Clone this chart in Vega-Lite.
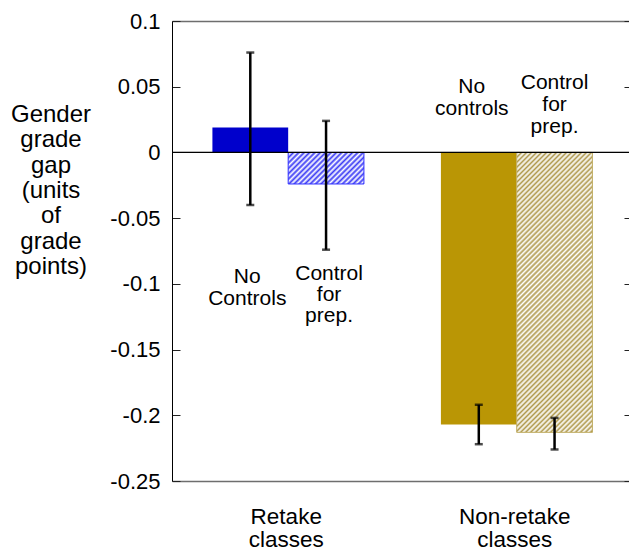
{
  "$schema": "https://vega.github.io/schema/vega-lite/v6.json",
  "width": 457,
  "height": 460,
  "autosize": {"type": "none"},
  "padding": {"left": 172, "top": 21, "right": 0, "bottom": 71},
  "config": {
    "view": {"stroke": null},
    "font": "Liberation Sans",
    "axis": {"labelFont": "Liberation Sans", "titleFont": "Liberation Sans", "grid": false},
    "text": {"font": "Liberation Sans"}
  },
  "data": {
    "values": [
      {"group": "Retake", "control": "No controls", "value": 0.019, "lo": -0.040, "hi": 0.076, "label": "No\nControls"},
      {"group": "Retake", "control": "Control", "value": -0.024, "lo": -0.074, "hi": 0.024, "label": "Control\nfor\nprep."},
      {"group": "Non-retake", "control": "No controls", "value": -0.207, "lo": -0.222, "hi": -0.192, "label": "No\ncontrols"},
      {"group": "Non-retake", "control": "Control", "value": -0.213, "lo": -0.226, "hi": -0.202, "label": "Control\nfor\nprep."}
    ]
  },
  "layer": [
    {
      "transform": [{"filter": "datum.control == 'No controls'"}],
      "mark": {"type": "bar"},
      "encoding": {
        "x": {"field": "group", "type": "nominal", "sort": ["Retake", "Non-retake"], "scale": {"paddingInner": 0, "paddingOuter": 0},
          "axis": {"orient": "bottom", "title": null, "ticks": false, "domainColor": "#6e6e6e", "domainWidth": 1.5, "labelAngle": 0, "labelFontSize": 22.5, "labelColor": "black", "labelExpr": "datum.value == 'Retake' ? ['Retake','classes'] : ['Non-retake','classes']", "labelLineHeight": 23, "labelBaseline": "alphabetic", "labelPadding": 42.5}},
        "xOffset": {"field": "control", "type": "nominal", "sort": ["No controls", "Control"], "scale": {"domain": ["No controls", "Control"], "paddingInner": 0, "paddingOuter": 0.508, "align": 0.525}},
        "y": {"field": "value", "type": "quantitative", "scale": {"domain": [-0.25, 0.1], "nice": false, "zero": false},
          "axis": {"orient": "left", "values": [-0.25, -0.2, -0.15, -0.1, -0.05, 0, 0.05, 0.1], "labelExpr": "datum.value == 0 ? '0' : toString(round(datum.value*100)/100)", "labelFontSize": 22, "labelColor": "black", "tickSize": -8, "tickColor": "#222", "tickWidth": 1, "domainColor": "black", "domainWidth": 1, "labelPadding": 20,
            "title": ["Gender", "grade", "gap", "(units", "of", "grade", "points)"], "titleAngle": 0, "titleAlign": "center", "titleBaseline": "alphabetic", "titleX": -121.5, "titleY": 100.7, "titleFontSize": 24, "titleFontWeight": "normal", "titleLineHeight": 25.3, "titleColor": "black"}},
        "y2": {"datum": 0},
        "color": {"field": "group", "type": "nominal", "scale": {"domain": ["Retake", "Non-retake"], "range": ["#0000cc", "#ba9605"]}, "legend": null}
      }
    },
    {
      "transform": [{"filter": "datum.group == 'Retake' && datum.control == 'Control'"}],
      "mark": {"type": "bar", "stroke": "#3030ff", "strokeWidth": 1,
        "fill": {"gradient": "linear", "x1": 0, "y1": 0, "x2": 1.207, "y2": 0.502, "stops": [
          {"offset": 0, "color": "#3b3bf5"}, {"offset": 0.025, "color": "#fff"}, {"offset": 0.05, "color": "#3b3bf5"}, {"offset": 0.075, "color": "#fff"},
          {"offset": 0.1, "color": "#3b3bf5"}, {"offset": 0.125, "color": "#fff"}, {"offset": 0.15, "color": "#3b3bf5"}, {"offset": 0.175, "color": "#fff"},
          {"offset": 0.2, "color": "#3b3bf5"}, {"offset": 0.225, "color": "#fff"}, {"offset": 0.25, "color": "#3b3bf5"}, {"offset": 0.275, "color": "#fff"},
          {"offset": 0.3, "color": "#3b3bf5"}, {"offset": 0.325, "color": "#fff"}, {"offset": 0.35, "color": "#3b3bf5"}, {"offset": 0.375, "color": "#fff"},
          {"offset": 0.4, "color": "#3b3bf5"}, {"offset": 0.425, "color": "#fff"}, {"offset": 0.45, "color": "#3b3bf5"}, {"offset": 0.475, "color": "#fff"},
          {"offset": 0.5, "color": "#3b3bf5"}, {"offset": 0.525, "color": "#fff"}, {"offset": 0.55, "color": "#3b3bf5"}, {"offset": 0.575, "color": "#fff"},
          {"offset": 0.6, "color": "#3b3bf5"}, {"offset": 0.625, "color": "#fff"}, {"offset": 0.65, "color": "#3b3bf5"}, {"offset": 0.675, "color": "#fff"},
          {"offset": 0.7, "color": "#3b3bf5"}, {"offset": 0.725, "color": "#fff"}, {"offset": 0.75, "color": "#3b3bf5"}, {"offset": 0.775, "color": "#fff"},
          {"offset": 0.8, "color": "#3b3bf5"}, {"offset": 0.825, "color": "#fff"}, {"offset": 0.85, "color": "#3b3bf5"}, {"offset": 0.875, "color": "#fff"},
          {"offset": 0.9, "color": "#3b3bf5"}, {"offset": 0.925, "color": "#fff"}, {"offset": 0.95, "color": "#3b3bf5"}, {"offset": 0.975, "color": "#fff"},
          {"offset": 1, "color": "#3b3bf5"}
        ]}},
      "encoding": {
        "x": {"field": "group", "type": "nominal", "sort": ["Retake", "Non-retake"], "axis": null},
        "xOffset": {"field": "control", "type": "nominal", "sort": ["No controls", "Control"]},
        "y": {"field": "value", "type": "quantitative", "axis": null},
        "y2": {"datum": 0}
      }
    },
    {
      "transform": [{"filter": "datum.group == 'Non-retake' && datum.control == 'Control'"}],
      "mark": {"type": "bar", "stroke": "#c0ad64", "strokeWidth": 1,
        "fill": {"gradient": "linear", "x1": 0, "y1": 0, "x2": 0.32, "y2": 1.184, "stops": [
          {"offset": 0, "color": "#b09a4e"}, {"offset": 0.007, "color": "#fff"}, {"offset": 0.014, "color": "#b09a4e"}, {"offset": 0.021, "color": "#fff"},
          {"offset": 0.028, "color": "#b09a4e"}, {"offset": 0.035, "color": "#fff"}, {"offset": 0.042, "color": "#b09a4e"}, {"offset": 0.049, "color": "#fff"},
          {"offset": 0.056, "color": "#b09a4e"}, {"offset": 0.063, "color": "#fff"}, {"offset": 0.07, "color": "#b09a4e"}, {"offset": 0.077, "color": "#fff"},
          {"offset": 0.084, "color": "#b09a4e"}, {"offset": 0.091, "color": "#fff"}, {"offset": 0.098, "color": "#b09a4e"}, {"offset": 0.105, "color": "#fff"},
          {"offset": 0.112, "color": "#b09a4e"}, {"offset": 0.119, "color": "#fff"}, {"offset": 0.126, "color": "#b09a4e"}, {"offset": 0.133, "color": "#fff"},
          {"offset": 0.14, "color": "#b09a4e"}, {"offset": 0.147, "color": "#fff"}, {"offset": 0.154, "color": "#b09a4e"}, {"offset": 0.161, "color": "#fff"},
          {"offset": 0.168, "color": "#b09a4e"}, {"offset": 0.175, "color": "#fff"}, {"offset": 0.182, "color": "#b09a4e"}, {"offset": 0.189, "color": "#fff"},
          {"offset": 0.196, "color": "#b09a4e"}, {"offset": 0.203, "color": "#fff"}, {"offset": 0.21, "color": "#b09a4e"}, {"offset": 0.217, "color": "#fff"},
          {"offset": 0.224, "color": "#b09a4e"}, {"offset": 0.231, "color": "#fff"}, {"offset": 0.238, "color": "#b09a4e"}, {"offset": 0.245, "color": "#fff"},
          {"offset": 0.252, "color": "#b09a4e"}, {"offset": 0.259, "color": "#fff"}, {"offset": 0.266, "color": "#b09a4e"}, {"offset": 0.273, "color": "#fff"},
          {"offset": 0.28, "color": "#b09a4e"}, {"offset": 0.287, "color": "#fff"}, {"offset": 0.294, "color": "#b09a4e"}, {"offset": 0.301, "color": "#fff"},
          {"offset": 0.308, "color": "#b09a4e"}, {"offset": 0.315, "color": "#fff"}, {"offset": 0.322, "color": "#b09a4e"}, {"offset": 0.329, "color": "#fff"},
          {"offset": 0.336, "color": "#b09a4e"}, {"offset": 0.343, "color": "#fff"}, {"offset": 0.35, "color": "#b09a4e"}, {"offset": 0.357, "color": "#fff"},
          {"offset": 0.364, "color": "#b09a4e"}, {"offset": 0.371, "color": "#fff"}, {"offset": 0.378, "color": "#b09a4e"}, {"offset": 0.385, "color": "#fff"},
          {"offset": 0.392, "color": "#b09a4e"}, {"offset": 0.399, "color": "#fff"}, {"offset": 0.406, "color": "#b09a4e"}, {"offset": 0.413, "color": "#fff"},
          {"offset": 0.42, "color": "#b09a4e"}, {"offset": 0.427, "color": "#fff"}, {"offset": 0.434, "color": "#b09a4e"}, {"offset": 0.441, "color": "#fff"},
          {"offset": 0.448, "color": "#b09a4e"}, {"offset": 0.455, "color": "#fff"}, {"offset": 0.462, "color": "#b09a4e"}, {"offset": 0.469, "color": "#fff"},
          {"offset": 0.476, "color": "#b09a4e"}, {"offset": 0.483, "color": "#fff"}, {"offset": 0.49, "color": "#b09a4e"}, {"offset": 0.497, "color": "#fff"},
          {"offset": 0.504, "color": "#b09a4e"}, {"offset": 0.511, "color": "#fff"}, {"offset": 0.518, "color": "#b09a4e"}, {"offset": 0.525, "color": "#fff"},
          {"offset": 0.532, "color": "#b09a4e"}, {"offset": 0.539, "color": "#fff"}, {"offset": 0.546, "color": "#b09a4e"}, {"offset": 0.553, "color": "#fff"},
          {"offset": 0.56, "color": "#b09a4e"}, {"offset": 0.567, "color": "#fff"}, {"offset": 0.574, "color": "#b09a4e"}, {"offset": 0.581, "color": "#fff"},
          {"offset": 0.588, "color": "#b09a4e"}, {"offset": 0.595, "color": "#fff"}, {"offset": 0.602, "color": "#b09a4e"}, {"offset": 0.609, "color": "#fff"},
          {"offset": 0.616, "color": "#b09a4e"}, {"offset": 0.623, "color": "#fff"}, {"offset": 0.63, "color": "#b09a4e"}, {"offset": 0.637, "color": "#fff"},
          {"offset": 0.644, "color": "#b09a4e"}, {"offset": 0.651, "color": "#fff"}, {"offset": 0.658, "color": "#b09a4e"}, {"offset": 0.665, "color": "#fff"},
          {"offset": 0.672, "color": "#b09a4e"}, {"offset": 0.679, "color": "#fff"}, {"offset": 0.686, "color": "#b09a4e"}, {"offset": 0.693, "color": "#fff"},
          {"offset": 0.7, "color": "#b09a4e"}, {"offset": 0.707, "color": "#fff"}, {"offset": 0.714, "color": "#b09a4e"}, {"offset": 0.721, "color": "#fff"},
          {"offset": 0.728, "color": "#b09a4e"}, {"offset": 0.735, "color": "#fff"}, {"offset": 0.742, "color": "#b09a4e"}, {"offset": 0.749, "color": "#fff"},
          {"offset": 0.756, "color": "#b09a4e"}, {"offset": 0.763, "color": "#fff"}, {"offset": 0.77, "color": "#b09a4e"}, {"offset": 0.777, "color": "#fff"},
          {"offset": 0.784, "color": "#b09a4e"}, {"offset": 0.791, "color": "#fff"}, {"offset": 0.798, "color": "#b09a4e"}, {"offset": 0.805, "color": "#fff"},
          {"offset": 0.812, "color": "#b09a4e"}, {"offset": 0.819, "color": "#fff"}, {"offset": 0.826, "color": "#b09a4e"}, {"offset": 0.833, "color": "#fff"},
          {"offset": 0.84, "color": "#b09a4e"}, {"offset": 0.847, "color": "#fff"}, {"offset": 0.854, "color": "#b09a4e"}, {"offset": 0.861, "color": "#fff"},
          {"offset": 0.868, "color": "#b09a4e"}, {"offset": 0.875, "color": "#fff"}, {"offset": 0.882, "color": "#b09a4e"}, {"offset": 0.889, "color": "#fff"},
          {"offset": 0.896, "color": "#b09a4e"}, {"offset": 0.903, "color": "#fff"}, {"offset": 0.91, "color": "#b09a4e"}, {"offset": 0.917, "color": "#fff"},
          {"offset": 0.924, "color": "#b09a4e"}, {"offset": 0.931, "color": "#fff"}, {"offset": 0.938, "color": "#b09a4e"}, {"offset": 0.945, "color": "#fff"},
          {"offset": 0.952, "color": "#b09a4e"}, {"offset": 0.959, "color": "#fff"}, {"offset": 0.966, "color": "#b09a4e"}, {"offset": 0.973, "color": "#fff"},
          {"offset": 0.98, "color": "#b09a4e"}, {"offset": 0.987, "color": "#fff"}, {"offset": 0.994, "color": "#b09a4e"}
        ]}},
      "encoding": {
        "x": {"field": "group", "type": "nominal", "sort": ["Retake", "Non-retake"], "axis": null},
        "xOffset": {"field": "control", "type": "nominal", "sort": ["No controls", "Control"]},
        "y": {"field": "value", "type": "quantitative", "axis": null},
        "y2": {"datum": 0}
      }
    },
    {
      "mark": {"type": "rule", "color": "black", "strokeWidth": 1},
      "encoding": {
        "y": {"datum": 0, "type": "quantitative",
          "axis": {"orient": "right", "values": [-0.25, -0.2, -0.15, -0.1, -0.05, 0, 0.05, 0.1], "labels": false, "domain": false, "tickSize": -5, "tickColor": "#222", "tickWidth": 1, "title": null}}
      }
    },
    {
      "mark": {"type": "rule", "color": "black", "strokeWidth": 2.5},
      "encoding": {
        "x": {"field": "group", "type": "nominal", "sort": ["Retake", "Non-retake"],
          "axis": {"orient": "top", "labels": false, "ticks": false, "domainColor": "#6e6e6e", "domainWidth": 1.5, "title": null}},
        "xOffset": {"field": "control", "type": "nominal", "sort": ["No controls", "Control"]},
        "y": {"field": "lo", "type": "quantitative", "axis": null},
        "y2": {"field": "hi"}
      }
    },
    {
      "mark": {"type": "tick", "color": "black", "size": 8, "thickness": 2.5},
      "encoding": {
        "x": {"field": "group", "type": "nominal", "sort": ["Retake", "Non-retake"], "axis": null},
        "xOffset": {"field": "control", "type": "nominal", "sort": ["No controls", "Control"]},
        "y": {"field": "lo", "type": "quantitative", "axis": null}
      }
    },
    {
      "mark": {"type": "tick", "color": "black", "size": 8, "thickness": 2.5},
      "encoding": {
        "x": {"field": "group", "type": "nominal", "sort": ["Retake", "Non-retake"], "axis": null},
        "xOffset": {"field": "control", "type": "nominal", "sort": ["No controls", "Control"]},
        "y": {"field": "hi", "type": "quantitative", "axis": null}
      }
    },
    {
      "transform": [{"filter": "datum.group == 'Retake' && datum.control == 'No controls'"}],
      "mark": {"type": "text", "fontSize": 21, "lineBreak": "\n", "lineHeight": 21.5, "align": "center", "baseline": "alphabetic", "color": "black", "dx": -3},
      "encoding": {
        "x": {"field": "group", "type": "nominal", "sort": ["Retake", "Non-retake"], "axis": null},
        "xOffset": {"field": "control", "type": "nominal", "sort": ["No controls", "Control"]},
        "y": {"datum": -0.0996, "type": "quantitative", "axis": null},
        "text": {"field": "label"}
      }
    },
    {
      "transform": [{"filter": "datum.group == 'Retake' && datum.control == 'Control'"}],
      "mark": {"type": "text", "fontSize": 21, "lineBreak": "\n", "lineHeight": 21.2, "align": "center", "baseline": "alphabetic", "color": "black", "dx": 3},
      "encoding": {
        "x": {"field": "group", "type": "nominal", "sort": ["Retake", "Non-retake"], "axis": null},
        "xOffset": {"field": "control", "type": "nominal", "sort": ["No controls", "Control"]},
        "y": {"datum": -0.0971, "type": "quantitative", "axis": null},
        "text": {"field": "label"}
      }
    },
    {
      "transform": [{"filter": "datum.group == 'Non-retake' && datum.control == 'No controls'"}],
      "mark": {"type": "text", "fontSize": 21, "lineBreak": "\n", "lineHeight": 22, "align": "center", "baseline": "alphabetic", "color": "black", "dx": -7},
      "encoding": {
        "x": {"field": "group", "type": "nominal", "sort": ["Retake", "Non-retake"], "axis": null},
        "xOffset": {"field": "control", "type": "nominal", "sort": ["No controls", "Control"]},
        "y": {"datum": 0.0454, "type": "quantitative", "axis": null},
        "text": {"field": "label"}
      }
    },
    {
      "transform": [{"filter": "datum.group == 'Non-retake' && datum.control == 'Control'"}],
      "mark": {"type": "text", "fontSize": 21, "lineBreak": "\n", "lineHeight": 22, "align": "center", "baseline": "alphabetic", "color": "black"},
      "encoding": {
        "x": {"field": "group", "type": "nominal", "sort": ["Retake", "Non-retake"], "axis": null},
        "xOffset": {"field": "control", "type": "nominal", "sort": ["No controls", "Control"]},
        "y": {"datum": 0.048, "type": "quantitative", "axis": null},
        "text": {"field": "label"}
      }
    }
  ],
  "resolve": {"axis": {"x": "independent", "y": "independent"}}
}
